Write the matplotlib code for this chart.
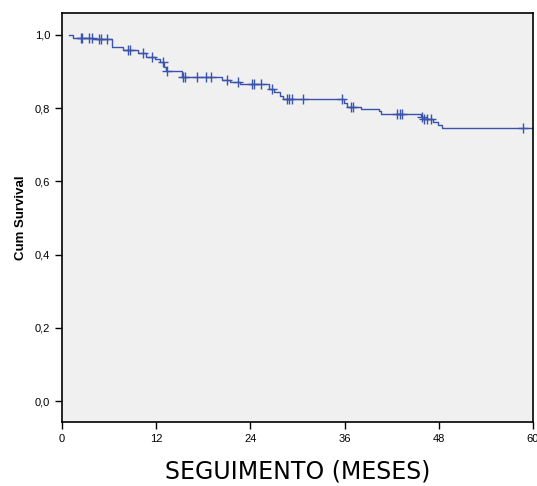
import numpy as np
import matplotlib.pyplot as plt
from matplotlib.ticker import FuncFormatter

# tempos de evento (meses) e sobrevida acumulada depois de cada evento
t_evento = [0.9, 1.4, 3.96, 6.38, 7.79, 9.70, 10.72, 11.87, 12.51, 13.02, 13.28,
            15.32, 20.39, 21.45, 22.72, 26.43, 27.07, 27.83, 28.09, 35.87, 36.32,
            38.04, 40.41, 40.60, 45.70, 46.09, 47.20, 47.84, 48.39]
s_evento = [1.0, 0.993, 0.988, 0.967, 0.958, 0.950, 0.940, 0.933, 0.926, 0.913, 0.902,
            0.885, 0.877, 0.871, 0.866, 0.852, 0.845, 0.834, 0.826, 0.815, 0.804,
            0.798, 0.791, 0.784, 0.776, 0.770, 0.763, 0.754, 0.746]
t_fim = 60

# censurados
t_cens = [2.43, 2.59, 3.49, 3.79, 4.72, 4.94, 5.71, 8.39, 8.68, 10.30, 11.45,
          12.81, 13.4, 15.41, 15.70, 17.20, 18.38, 18.98, 21.03, 22.38, 24.22,
          24.51, 25.41, 26.75, 28.69, 28.98, 29.33, 30.70, 35.71, 36.77, 37.11,
          42.73, 43.02, 43.37, 45.83, 46.13, 46.47, 46.98, 58.77]

xticks = [0, 12, 24, 36, 48, 60]
yticks = [0.0, 0.2, 0.4, 0.6, 0.8, 1.0]

azul = '#3a53ad'

fig = plt.figure(figsize=(5.37, 4.86), dpi=100)
ax = fig.add_axes([0.1155, 0.1317, 0.877, 0.8416])
ax.set_facecolor('#f0f0f0')

tx = t_evento + [t_fim]
sx = s_evento + [s_evento[-1]]
ax.step(tx, sx, where='post', color=azul, lw=1.0)

# sobrevida no tempo de cada censura
s_c = [s_evento[np.searchsorted(t_evento, t, side='right') - 1] for t in t_cens]
ax.plot(t_cens, s_c, '+', color=azul, ms=7, mew=1.0)

ax.set_xlim(0, 60)
ax.set_ylim(-0.057, 1.06)
ax.set_xticks(xticks)
ax.set_yticks(yticks)
ax.yaxis.set_major_formatter(FuncFormatter(lambda v, p: f'{v:.1f}'.replace('.', ',')))
ax.tick_params(direction='out', length=5, width=1, labelsize=8, colors='black')
for lab in ax.get_xticklabels() + ax.get_yticklabels():
    lab.set_fontfamily('Liberation Sans')
for sp in ax.spines.values():
    sp.set_linewidth(1.2)

ax.set_ylabel('Cum Survival', fontsize=9.5, fontweight='bold', family='Liberation Sans', labelpad=6)
ax.set_xlabel('SEGUIMENTO (MESES)', fontsize=17, family='DejaVu Sans', labelpad=11)

fig.savefig('out.png', dpi=100)
